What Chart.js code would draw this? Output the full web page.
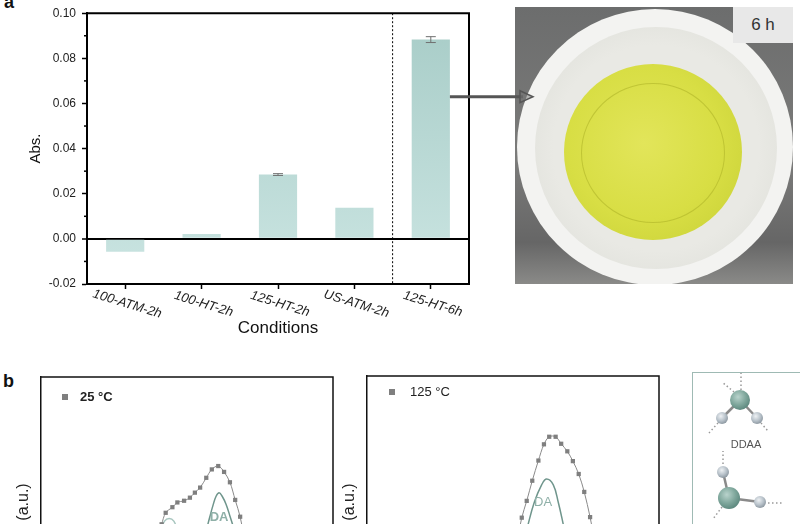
<!DOCTYPE html>
<html>
<head>
<meta charset="utf-8">
<script src="https://cdn.jsdelivr.net/npm/chart.js@4.4.0/dist/chart.umd.min.js"></script>
<style>
  html, body { margin: 0; padding: 0; width: 800px; height: 524px; overflow: hidden; background: #fff; }
  body { font-family: "Liberation Sans", Arial, sans-serif; position: relative; }
  .abs { position: absolute; }
  .panel-label { font-weight: bold; font-size: 18px; line-height: 18px; color: #111; }
  #photo { left: 515px; top: 7px; width: 278px; height: 277px; overflow: hidden;
           background: linear-gradient(180deg, #6c6d6d 0%, #7b7b7a 55%, #666 85%, #8a8a88 100%); }
  #photo .ring { position: absolute; border-radius: 50%; }
  #photo .tag { position: absolute; left: 218px; top: 0; width: 60px; height: 36px; background: #e8e8e8;
                font-size: 17px; color: #333; text-align: center; line-height: 36px; }
</style>
</head>
<body>

<div class="abs panel-label" style="left:4px;top:-7px;">a</div>
<div class="abs panel-label" style="left:3px;top:372px;">b</div>

<!-- photo of the 6 h sample, sketched with css -->
<div id="photo" class="abs">
  <div class="ring" style="left:2px;top:2px;width:276px;height:276px;background:radial-gradient(circle, #f3f3f1 80%, #e9e9e7 100%);"></div>
  <div class="ring" style="left:20px;top:20px;width:242px;height:242px;background:radial-gradient(circle, #e9e9e4 60%, #dedfd9 90%, #ececea 100%);"></div>
  <div class="ring" style="left:49px;top:57px;width:178px;height:176px;background:radial-gradient(circle at 45% 45%, #e2e55a 0%, #d8de44 55%, #ccd43a 85%, #c2ca3c 100%);"></div>
  <div class="ring" style="left:66px;top:76px;width:142px;height:138px;border:1px solid rgba(175,180,40,0.6);"></div>
  <div class="tag">6 h</div>
</div>

<canvas id="absChart" class="abs" width="540" height="345" style="left:0;top:0;z-index:2;"></canvas>
<canvas id="raman25" class="abs" width="340" height="300" style="left:0;top:365px;"></canvas>
<canvas id="raman125" class="abs" width="340" height="300" style="left:340px;top:365px;"></canvas>

<div class="abs" style="left:692px;top:372px;width:130px;height:200px;border:1.5px solid #9fbab4;"></div>
<svg class="abs" style="left:660px;top:365px;" width="140" height="159">
  <defs>
    <radialGradient id="big" cx="40%" cy="35%" r="65%">
      <stop offset="0%" stop-color="#b9d3cc"/><stop offset="60%" stop-color="#7fa79c"/><stop offset="100%" stop-color="#5f8a80"/>
    </radialGradient>
    <radialGradient id="small" cx="40%" cy="35%" r="65%">
      <stop offset="0%" stop-color="#eef1f4"/><stop offset="60%" stop-color="#b8c2ca"/><stop offset="100%" stop-color="#8f9aa3"/>
    </radialGradient>
  </defs>
  <g stroke="#999" stroke-width="1.5" stroke-dasharray="1.5,2.5" fill="none">
    <line x1="74" y1="27" x2="62" y2="17"/><line x1="81" y1="25" x2="81" y2="8"/>
    <line x1="58" y1="58" x2="49" y2="68"/><line x1="101" y1="58" x2="108" y2="66"/>
    <line x1="63" y1="99" x2="63" y2="86"/><line x1="108" y1="138" x2="122" y2="138"/>
    <line x1="62" y1="142" x2="53" y2="154"/>
  </g>
  <g stroke="#8a8a8a" stroke-width="2.5">
    <line x1="80" y1="35" x2="62" y2="53"/><line x1="80" y1="35" x2="97" y2="53"/>
    <line x1="69" y1="133" x2="63" y2="107"/><line x1="69" y1="133" x2="100" y2="137"/>
  </g>
  <circle cx="80" cy="35" r="10" fill="url(#big)"/>
  <circle cx="62" cy="53" r="6" fill="url(#small)"/>
  <circle cx="97" cy="53" r="6" fill="url(#small)"/>
  <text x="86" y="83" font-family="Liberation Sans, Arial" font-size="11" fill="#555" text-anchor="middle">DDAA</text>
  <circle cx="63" cy="107" r="6" fill="url(#small)"/>
  <circle cx="69" cy="133" r="11" fill="url(#big)"/>
  <circle cx="100" cy="137" r="6" fill="url(#small)"/>
</svg>

<script>
// ---- panel a data ----
const conditions = ['100-ATM-2h', '100-HT-2h', '125-HT-2h', 'US-ATM-2h', '125-HT-6h'];
const absValues = [-0.0057, 0.0022, 0.0285, 0.0138, 0.0883];
const absErrors = [0, 0, 0.0004, 0, 0.0013];
const minorTicks = [-0.01, 0.01, 0.03, 0.05, 0.07, 0.09];

// ---- panel b data (arbitrary units) ----
const shift25 = [41.3, 42.7, 45.0, 46.7, 49.0, 51.0, 52.7, 54.5, 56.6, 58.5, 60.7, 62.7, 64.7, 66.5, 68.2, 69.5];
const int25 = [0.474, 0.515, 0.535, 0.552, 0.558, 0.569, 0.587, 0.605, 0.640, 0.670, 0.682, 0.661, 0.624, 0.561, 0.501, 0.43];
const daShift25 = [56.8, 57.8, 59.0, 60.0, 61.0, 62.0, 63.4, 64.8, 66.0];
const daInt25 = [0.46, 0.50, 0.545, 0.575, 0.587, 0.575, 0.545, 0.50, 0.46];
const sideShift25 = [41.0, 42.3, 43.9, 45.5, 46.8];
const sideInt25 = [0.45, 0.485, 0.495, 0.485, 0.45];

const shift125 = [51.8, 53.0, 54.7, 56.6, 58.7, 60.6, 62.4, 64.6, 66.5, 68.6, 70.5, 72.5, 74.4, 76.4, 77.6];
const int125 = [0.43, 0.494, 0.554, 0.626, 0.698, 0.756, 0.783, 0.783, 0.758, 0.731, 0.696, 0.650, 0.586, 0.496, 0.43];
const daShift125 = [54.6, 55.2, 57.3, 59.8, 61.5, 63.8, 65.5, 67.2, 67.8];
const daInt125 = [0.44, 0.471, 0.549, 0.611, 0.632, 0.611, 0.549, 0.471, 0.44];

const FONT = '"Liberation Sans", Arial, sans-serif';
Chart.defaults.font.family = FONT;
Chart.defaults.color = '#222';

function pairs(xs, ys) {
    return xs.map((x, i) => ({ x: x, y: ys[i] }));
}

// frame, minor ticks, divider, error bars, rotated labels, arrow
const absDecor = {
    id: 'absDecor',
    afterDraw(chart) {
        const { ctx, chartArea: a, scales: { x, y } } = chart;
        const meta = chart.getDatasetMeta(0);
        ctx.save();
        ctx.strokeStyle = '#000';
        ctx.lineWidth = 2;
        ctx.beginPath();
        ctx.moveTo(a.left, a.top);
        ctx.lineTo(a.right, a.top);
        ctx.lineTo(a.right, a.bottom);
        ctx.stroke();

        ctx.lineWidth = 1.5;
        minorTicks.forEach(v => {
            const py = y.getPixelForValue(v);
            ctx.beginPath();
            ctx.moveTo(a.left - 3, py);
            ctx.lineTo(a.left, py);
            ctx.stroke();
        });

        // dotted divider between the 2h and 6h samples
        const dx = (x.getPixelForValue(3) + x.getPixelForValue(4)) / 2;
        ctx.lineWidth = 1;
        ctx.setLineDash([2, 2]);
        ctx.beginPath();
        ctx.moveTo(dx, a.top);
        ctx.lineTo(dx, a.bottom);
        ctx.stroke();
        ctx.setLineDash([]);

        // error bars
        ctx.strokeStyle = '#707070';
        ctx.lineWidth = 1;
        absErrors.forEach((e, i) => {
            if (!e) return;
            const bx = meta.data[i].x;
            const t = y.getPixelForValue(absValues[i] + e);
            const b = y.getPixelForValue(absValues[i] - e);
            ctx.beginPath();
            ctx.moveTo(bx, t); ctx.lineTo(bx, b);
            ctx.moveTo(bx - 5, t); ctx.lineTo(bx + 5, t);
            ctx.moveTo(bx - 5, b); ctx.lineTo(bx + 5, b);
            ctx.stroke();
        });

        // tilted category labels
        ctx.fillStyle = '#222';
        ctx.font = 'italic 13px ' + FONT;
        ctx.textAlign = 'center';
        ctx.textBaseline = 'middle';
        conditions.forEach((c, i) => {
            ctx.save();
            ctx.translate(x.getPixelForValue(i) + 2, a.bottom + 20);
            ctx.rotate(17 * Math.PI / 180);
            ctx.fillText(c, 0, 0);
            ctx.restore();
        });

        // arrow to the photo
        const last = meta.data[4];
        const ay = y.getPixelForValue(0.063);
        const tip = a.right + 64;
        ctx.strokeStyle = '#555';
        ctx.lineWidth = 3;
        ctx.beginPath();
        ctx.moveTo(last.x + last.width / 2, ay);
        ctx.lineTo(tip - 10, ay);
        ctx.stroke();
        ctx.lineWidth = 1.5;
        ctx.fillStyle = 'rgba(120,120,120,0.5)';
        ctx.beginPath();
        ctx.moveTo(tip - 13, ay - 6);
        ctx.lineTo(tip, ay);
        ctx.lineTo(tip - 13, ay + 6);
        ctx.closePath();
        ctx.fill();
        ctx.stroke();
        ctx.restore();
    }
};

new Chart(document.getElementById('absChart'), {
    type: 'bar',
    data: {
        labels: conditions,
        datasets: [{
            data: absValues,
            barPercentage: 0.5,
            categoryPercentage: 1,
            backgroundColor: (c) => {
                const area = c.chart.chartArea;
                if (!area) return '#b8d7d3';
                const g = c.chart.ctx.createLinearGradient(0, area.top, 0, area.bottom);
                g.addColorStop(0, '#a7ccc7');
                g.addColorStop(1, '#cbe5e2');
                return g;
            }
        }]
    },
    options: {
        responsive: false,
        animation: false,
        layout: { padding: { top: 7, right: 71, left: 0, bottom: 0 } },
        plugins: { legend: { display: false }, tooltip: { enabled: false } },
        scales: {
            x: {
                afterFit: (s) => { s.height = 61; },
                grid: { offset: false, drawOnChartArea: false, tickLength: 5, tickColor: '#000', tickWidth: 1.5 },
                border: { color: '#000', width: 2 },
                ticks: { display: false },
                title: { display: true, text: 'Conditions', font: { size: 17 }, color: '#111', padding: { top: 0, bottom: 6 } }
            },
            y: {
                min: -0.02,
                max: 0.10,
                afterFit: (s) => { s.width = 87; },
                ticks: {
                    stepSize: 0.02,
                    padding: 6,
                    font: { size: 12 },
                    color: '#222',
                    callback: (v) => v.toFixed(2)
                },
                grid: {
                    color: (c) => (c.tick && Math.abs(c.tick.value) < 1e-9 ? '#000' : 'rgba(0,0,0,0)'),
                    lineWidth: (c) => (c.tick && Math.abs(c.tick.value) < 1e-9 ? 2 : 1),
                    tickColor: '#000',
                    tickLength: 5,
                    tickWidth: 1.5
                },
                border: { color: '#000', width: 2 },
                title: { display: true, text: 'Abs.', font: { size: 15 }, color: '#111', padding: { top: 27, bottom: 0 } }
            }
        }
    },
    plugins: [absDecor]
});

// frame, legend, DA tag and axis title for the spectra
const ramanDecor = {
    id: 'ramanDecor',
    afterDraw(chart, args, o) {
        const { ctx, chartArea: a, scales: { x, y } } = chart;
        ctx.save();
        ctx.strokeStyle = '#111';
        ctx.lineWidth = 1.5;
        ctx.beginPath();
        ctx.moveTo(a.left, a.top);
        ctx.lineTo(a.right, a.top);
        ctx.lineTo(a.right, a.bottom);
        ctx.stroke();

        ctx.fillStyle = '#7f7f7f';
        ctx.fillRect(a.left + o.markX - 3, a.top + o.markY - 3, 6, 6);
        ctx.fillStyle = '#222';
        ctx.font = (o.bold ? 'bold ' : '') + '13px ' + FONT;
        ctx.textBaseline = 'middle';
        ctx.textAlign = 'left';
        ctx.fillText(o.legend, a.left + o.textX, a.top + o.markY);

        ctx.fillStyle = '#8fb0a8';
        ctx.font = (o.bold ? 'bold ' : '') + '13px ' + FONT;
        ctx.textAlign = 'center';
        ctx.fillText('DA', x.getPixelForValue(o.daX), y.getPixelForValue(o.daY));

        ctx.fillStyle = '#222';
        ctx.font = '16px ' + FONT;
        ctx.translate(o.titleX, o.titleY);
        ctx.rotate(-Math.PI / 2);
        ctx.fillText('(a.u.)', 0, 0);
        ctx.restore();
    }
};

function ramanChart(id, pts, curves, pad, leftW, bottomH, deco) {
    const datasets = [{
        data: pts,
        showLine: true,
        borderColor: '#8a8a8a',
        borderWidth: 1,
        tension: 0.35,
        pointStyle: 'rect',
        pointRadius: 3,
        pointBackgroundColor: '#7f7f7f',
        pointBorderWidth: 0
    }];
    curves.forEach(cv => datasets.push({
        data: cv.data,
        showLine: true,
        borderColor: cv.color,
        borderWidth: 1.5,
        tension: 0.4,
        pointRadius: 0
    }));
    return new Chart(document.getElementById(id), {
        type: 'scatter',
        data: { datasets: datasets },
        options: {
            responsive: false,
            animation: false,
            layout: { padding: pad },
            plugins: { legend: { display: false }, tooltip: { enabled: false }, ramanDecor: deco },
            scales: {
                x: {
                    min: 0, max: 100,
                    afterFit: (s) => { s.height = bottomH; },
                    ticks: { display: false },
                    grid: { display: false },
                    border: { color: '#111', width: 1.5 }
                },
                y: {
                    min: 0, max: 1,
                    afterFit: (s) => { s.width = leftW; },
                    ticks: { display: false },
                    grid: { display: false },
                    border: { color: '#111', width: 1.5 }
                }
            }
        },
        plugins: [ramanDecor]
    });
}

ramanChart('raman25', pairs(shift25, int25), [
    { data: pairs(daShift25, daInt25), color: '#6f958c' },
    { data: pairs(sideShift25, sideInt25), color: '#a8c6bf' }
], { top: 12, right: 7, left: 0, bottom: 0 }, 41, 8,
    { legend: '25 \u00b0C', bold: true, markX: 24, markY: 20, textX: 39, daX: 61, daY: 0.5, titleX: 24, titleY: 137 });

ramanChart('raman125', pairs(shift125, int125), [
    { data: pairs(daShift125, daInt125), color: '#6f958c' }
], { top: 11, right: 21, left: 0, bottom: 0 }, 27, 9,
    { legend: '125 \u00b0C', bold: false, markX: 25, markY: 16, textX: 43, daX: 60.3, daY: 0.55, titleX: 10, titleY: 137 });
</script>
</body>
</html>
